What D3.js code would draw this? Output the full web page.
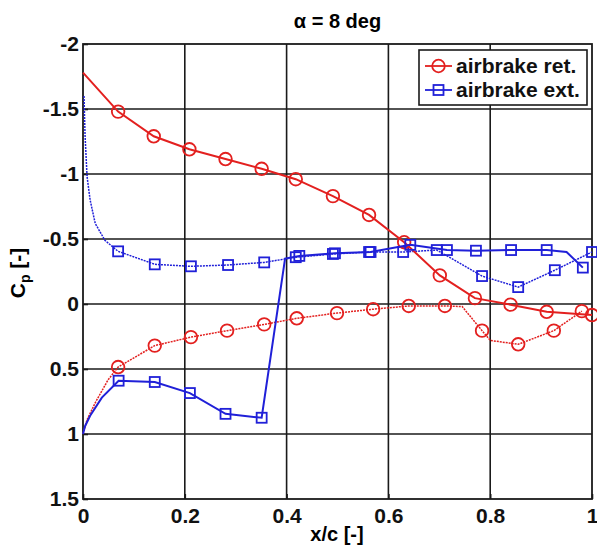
<!DOCTYPE html>
<html>
<head>
<meta charset="utf-8">
<script src="https://cdn.jsdelivr.net/npm/d3@7"></script>
<style>
  body { margin: 0; background: #fff; }
  text { font-family: "Liberation Sans", Arial, sans-serif; font-weight: bold; }
</style>
</head>
<body>
<div id="chart"></div>
<script>
// tick values
var xTicks = [0, 0.2, 0.4, 0.6, 0.8, 1];
var yTicks = [-2, -1.5, -1, -0.5, 0, 0.5, 1, 1.5];

// airbrake retracted, upper surface (solid)
var retUpX  = [0, 0.069, 0.139, 0.209, 0.28, 0.351, 0.418, 0.491, 0.562, 0.631, 0.701, 0.77, 0.84, 0.911, 1.0];
var retUpCp = [-1.78, -1.48, -1.29, -1.19, -1.115, -1.04, -0.96, -0.83, -0.685, -0.475, -0.22, -0.045, 0.005, 0.06, 0.085];
var retUpMk = [0, 1, 1, 1, 1, 1, 1, 1, 1, 1, 1, 1, 1, 1, 1];

// airbrake retracted, lower surface (dotted)
var retLoX  = [0, 0.008, 0.024, 0.049, 0.069, 0.141, 0.212, 0.283, 0.356, 0.42, 0.499, 0.57, 0.64, 0.711, 0.745, 0.784, 0.8, 0.855, 0.925, 0.98];
var retLoCp = [1.0, 0.89, 0.76, 0.585, 0.485, 0.32, 0.255, 0.205, 0.157, 0.11, 0.07, 0.04, 0.015, 0.015, 0.02, 0.205, 0.28, 0.31, 0.205, 0.055];
var retLoMk = [0, 0, 0, 0, 1, 1, 1, 1, 1, 1, 1, 1, 1, 1, 0, 1, 0, 1, 1, 1];

// airbrake extended, upper surface (dotted)
var extUpX  = [0.002, 0.004, 0.008, 0.014, 0.024, 0.043, 0.069, 0.141, 0.212, 0.285, 0.356, 0.418, 0.491, 0.562, 0.629, 0.695, 0.784, 0.855, 0.927, 1.0];
var extUpCp = [-1.6, -1.3, -0.98, -0.8, -0.62, -0.49, -0.405, -0.305, -0.29, -0.3, -0.32, -0.36, -0.385, -0.4, -0.4, -0.415, -0.215, -0.13, -0.26, -0.4];
var extUpMk = [0, 0, 0, 0, 0, 0, 1, 1, 1, 1, 1, 1, 1, 1, 1, 1, 1, 1, 1, 1];

// airbrake extended, lower surface (solid)
var extLoX  = [0, 0.004, 0.014, 0.037, 0.07, 0.141, 0.21, 0.28, 0.351, 0.397, 0.425, 0.495, 0.565, 0.643, 0.715, 0.772, 0.841, 0.911, 0.95, 0.982];
var extLoCp = [1.0, 0.94, 0.86, 0.72, 0.59, 0.6, 0.685, 0.845, 0.875, -0.35, -0.37, -0.39, -0.4, -0.455, -0.415, -0.41, -0.415, -0.415, -0.4, -0.28];
var extLoMk = [0, 0, 0, 0, 1, 1, 1, 1, 1, 0, 1, 1, 1, 1, 1, 1, 1, 1, 0, 1];

var red = "#e3201f", blue = "#2020d8";
var fontFam = '"Liberation Sans", Arial, sans-serif';

var margin = { top: 44, right: 5, bottom: 46, left: 83 },
    width = 597 - margin.left - margin.right,
    height = 545 - margin.top - margin.bottom;

var x = d3.scaleLinear().domain([0, 1]).range([0, width]);
var y = d3.scaleLinear().domain([-2, 1.5]).range([0, height]);

var svg = d3.select("#chart").append("svg")
    .attr("width", 597)
    .attr("height", 545);

var chart = svg.append("g")
    .attr("transform", "translate(" + margin.left + "," + margin.top + ")");

// grid lines
chart.append("g")
    .selectAll("line")
    .data(xTicks.slice(1, -1))
    .enter().append("line")
    .attr("x1", function (d) { return x(d); })
    .attr("x2", function (d) { return x(d); })
    .attr("y1", 0)
    .attr("y2", height)
    .attr("stroke", "#1a1a1a")
    .attr("stroke-width", 1.6);

chart.append("g")
    .selectAll("line")
    .data(yTicks.slice(1, -1))
    .enter().append("line")
    .attr("y1", function (d) { return y(d); })
    .attr("y2", function (d) { return y(d); })
    .attr("x1", 0)
    .attr("x2", width)
    .attr("stroke", "#1a1a1a")
    .attr("stroke-width", 1.6);

// axes, ticks pointing inward, plain hyphen for minus
var fmt = function (d) { return String(d); };

var xAxis = chart.append("g")
    .attr("transform", "translate(0," + height + ")")
    .call(d3.axisBottom(x).tickValues(xTicks).tickSizeInner(-5).tickSizeOuter(0).tickPadding(9).tickFormat(fmt));

var yAxis = chart.append("g")
    .call(d3.axisLeft(y).tickValues(yTicks).tickSizeInner(-5).tickSizeOuter(0).tickPadding(4).tickFormat(fmt));

[xAxis, yAxis].forEach(function (a) {
    a.select(".domain").remove();
    a.selectAll("line").attr("stroke", "#1a1a1a").attr("stroke-width", 1.6);
    a.selectAll("text")
        .style("font-size", "21px")
        .style("font-family", fontFam)
        .style("font-weight", "bold")
        .attr("fill", "#111");
});

// frame
chart.append("rect")
    .attr("width", width)
    .attr("height", height)
    .attr("fill", "none")
    .attr("stroke", "#1a1a1a")
    .attr("stroke-width", 1.8);

// series
function pts(xs, cps, mk) {
    return xs.map(function (d, i) { return { x: d, cp: cps[i], mk: mk[i] }; });
}

var series = [
    { data: pts(retLoX, retLoCp, retLoMk), color: red, dash: "2,1", w: 1.5, shape: "circle" },
    { data: pts(extUpX, extUpCp, extUpMk), color: blue, dash: "2,1", w: 1.5, shape: "square" },
    { data: pts(retUpX, retUpCp, retUpMk), color: red, dash: null, w: 2, shape: "circle" },
    { data: pts(extLoX, extLoCp, extLoMk), color: blue, dash: null, w: 2, shape: "square" }
];

var line = d3.line()
    .x(function (d) { return x(d.x); })
    .y(function (d) { return y(d.cp); });

function drawMarker(g, shape, color, cx, cy) {
    if (shape === "circle") {
        g.append("circle")
            .attr("cx", cx).attr("cy", cy).attr("r", 6.3)
            .attr("fill", "none").attr("stroke", color).attr("stroke-width", 1.8);
    } else {
        g.append("rect")
            .attr("x", cx - 5).attr("y", cy - 5).attr("width", 10).attr("height", 10)
            .attr("fill", "none").attr("stroke", color).attr("stroke-width", 1.8);
    }
}

series.forEach(function (s) {
    var g = chart.append("g");
    g.append("path")
        .datum(s.data)
        .attr("d", line)
        .attr("fill", "none")
        .attr("stroke", s.color)
        .attr("stroke-width", s.w)
        .attr("stroke-dasharray", s.dash);
    s.data.filter(function (d) { return d.mk; }).forEach(function (d) {
        drawMarker(g, s.shape, s.color, x(d.x), y(d.cp));
    });
});

// title
svg.append("text")
    .attr("x", margin.left + width / 2)
    .attr("y", 28)
    .attr("text-anchor", "middle")
    .style("font-size", "20px")
    .text("\u03b1 = 8 deg");

// axis labels
svg.append("text")
    .attr("x", 337)
    .attr("y", 541)
    .attr("text-anchor", "middle")
    .style("font-size", "20px")
    .text("x/c [-]");

var yl = svg.append("text")
    .attr("transform", "translate(25,273) rotate(-90)")
    .attr("text-anchor", "middle")
    .style("font-size", "21px");
yl.append("tspan").text("C");
yl.append("tspan").attr("dy", 5).style("font-size", "14px").text("p");
yl.append("tspan").attr("dy", -5).text(" [-]");

// legend
var legend = svg.append("g");
legend.append("rect")
    .attr("x", 419).attr("y", 50)
    .attr("width", 168).attr("height", 55)
    .attr("fill", "#fff")
    .attr("stroke", "#1a1a1a")
    .attr("stroke-width", 1.6);

var legendItems = [
    { label: "airbrake ret.", color: red, shape: "circle" },
    { label: "airbrake ext.", color: blue, shape: "square" }
];

legendItems.forEach(function (d, i) {
    var ly = 66 + i * 24;
    legend.append("line")
        .attr("x1", 425).attr("x2", 452)
        .attr("y1", ly).attr("y2", ly)
        .attr("stroke", d.color).attr("stroke-width", 1.8);
    drawMarker(legend, d.shape, d.color, 438.5, ly);
    legend.append("text")
        .attr("x", 456)
        .attr("y", ly + 7)
        .style("font-size", "21px")
        .attr("fill", "#111")
        .text(d.label);
});
</script>
</body>
</html>
